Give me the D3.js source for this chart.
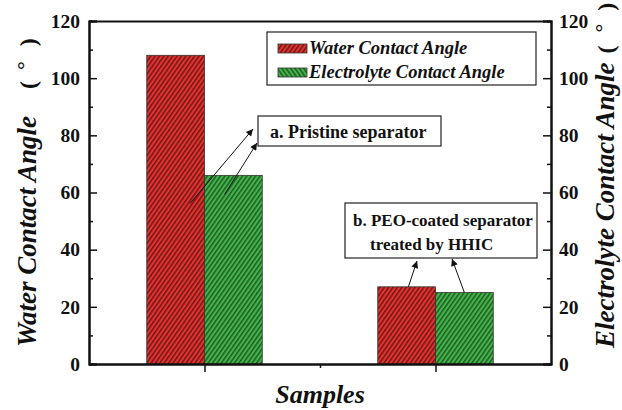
<!DOCTYPE html>
<html>
<head>
<meta charset="utf-8">
<script src="https://cdn.jsdelivr.net/npm/d3@7"></script>
</head>
<body style="margin:0; background:#fff">
<svg id="chart" width="622" height="410" style="display:block"></svg>
<script>
// sample positions on the x axis and measured angles
var samplePos = [1, 3];
var waterAngle = [108, 27];
var electrolyteAngle = [66, 25];
var yTicks = [0, 20, 40, 60, 80, 100, 120];
var yMinor = [10, 30, 50, 70, 90, 110];
var seriesNames = ["Water Contact Angle", "Electrolyte Contact Angle"];
var noteA = ["a. Pristine separator"];
var noteB = ["b. PEO-coated separator", "treated by HHIC"];

var margins = { top: 21, bottom: 46, left: 89, right: 71 };
var width = 622, height = 410;

var svg = d3.select("#chart");

var x = d3.scaleLinear().domain([0, 4]).range([margins.left, width - margins.right]);
var y = d3.scaleLinear().domain([0, 120]).range([height - margins.bottom, margins.top]);
var barW = x(0.5) - x(0);

/** hatch patterns */
var defs = svg.append("defs");
function hatch(id, base, stripe, flip) {
  var p = defs.append("pattern")
    .attr("id", id)
    .attr("patternUnits", "userSpaceOnUse")
    .attr("width", 3.6).attr("height", 4)
    .attr("patternTransform", "rotate(" + (flip ? -35 : 35) + ")");
  p.append("rect").attr("width", 3.6).attr("height", 4).attr("fill", base);
  p.append("rect").attr("width", 1.5).attr("height", 4).attr("fill", stripe);
}
hatch("redH", "#e3322f", "#6e1816", false);
hatch("greenH", "#46b24c", "#1c5e22", false);
hatch("greenL", "#46b24c", "#1c5e22", true);

/** bars */
svg.append("g").selectAll("rect")
  .data(samplePos)
  .enter().append("rect")
  .attr("x", (d) => x(d) - barW)
  .attr("y", (d, i) => y(waterAngle[i]))
  .attr("width", barW)
  .attr("height", (d, i) => y(0) - y(waterAngle[i]))
  .attr("fill", "url(#redH)")
  .attr("stroke", "#333").attr("stroke-width", 0.8);

svg.append("g").selectAll("rect")
  .data(samplePos)
  .enter().append("rect")
  .attr("x", (d) => x(d))
  .attr("y", (d, i) => y(electrolyteAngle[i]))
  .attr("width", barW)
  .attr("height", (d, i) => y(0) - y(electrolyteAngle[i]))
  .attr("fill", "url(#greenH)")
  .attr("stroke", "#333").attr("stroke-width", 0.8);

/** axes */
function styleAxis(g) {
  g.select(".domain").attr("stroke", "#111").attr("stroke-width", 2);
  g.selectAll(".tick line").attr("stroke", "#111").attr("stroke-width", 1.5);
  g.selectAll(".tick text").attr("font-size", 19.5);
}

svg.append("g")
  .attr("transform", `translate(${margins.left},0)`)
  .call(d3.axisLeft(y).tickValues(yTicks).tickSize(-8).tickPadding(9))
  .call(styleAxis);
svg.append("g")
  .attr("transform", `translate(${margins.left},0)`)
  .call(d3.axisLeft(y).tickValues(yMinor).tickSize(-4).tickFormat(""))
  .call(styleAxis);

svg.append("g")
  .attr("transform", `translate(${width - margins.right},0)`)
  .call(d3.axisRight(y).tickValues(yTicks).tickSize(-8).tickPadding(8))
  .call(styleAxis);
svg.append("g")
  .attr("transform", `translate(${width - margins.right},0)`)
  .call(d3.axisRight(y).tickValues(yMinor).tickSize(-4).tickFormat(""))
  .call(styleAxis);

svg.append("g")
  .attr("transform", `translate(0,${height - margins.bottom})`)
  .call(d3.axisBottom(x).tickValues(samplePos).tickSize(8).tickSizeOuter(0).tickFormat(""))
  .call(styleAxis);
svg.append("g")
  .attr("transform", `translate(0,${height - margins.bottom})`)
  .call(d3.axisBottom(x).tickValues([2]).tickSize(4).tickSizeOuter(0).tickFormat(""))
  .call(styleAxis);

svg.append("g")
  .attr("transform", `translate(0,${margins.top})`)
  .call(d3.axisTop(x).tickValues([]).tickSizeOuter(0))
  .call(styleAxis);

/** axis titles (the degree unit sits in widely spaced brackets) */
function yTitle(cx, startY, label, gaps) {
  var t = svg.append("text")
    .attr("transform", `translate(${cx},${startY}) rotate(-90)`)
    .attr("font-size", 27)
    .attr("font-style", "italic");
  t.append("tspan").text(label);
  t.append("tspan").style("font-style", "normal").attr("font-size", 24).attr("dx", gaps[0]).text("(");
  t.append("tspan").style("font-style", "normal").attr("font-size", 22).attr("dx", gaps[1]).attr("dy", -4).text("°");
  t.append("tspan").style("font-style", "normal").attr("font-size", 24).attr("dx", gaps[2]).attr("dy", 4).text(")");
}
yTitle(36, 347, "Water Contact Angle", [27, 11, 15]);
yTitle(614, 348, "Electrolyte Contact Angle", [9, 13, 13]);

svg.append("text")
  .attr("x", x(2)).attr("y", 403)
  .attr("text-anchor", "middle")
  .attr("font-size", 26).attr("font-style", "italic")
  .text("Samples");

/** legend */
var legend = svg.append("g");
legend.append("rect")
  .attr("x", 267).attr("y", 32).attr("width", 269).attr("height", 53)
  .attr("fill", "#fff").attr("stroke", "#222").attr("stroke-width", 1.2);
var swatchFill = ["url(#redH)", "url(#greenL)"];
seriesNames.forEach(function (name, i) {
  legend.append("rect")
    .attr("x", 278).attr("y", 44 + i * 24).attr("width", 29).attr("height", 9)
    .attr("fill", swatchFill[i]).attr("stroke", "#333").attr("stroke-width", 0.8);
  legend.append("text")
    .attr("x", 309).attr("y", 54 + i * 24)
    .attr("font-size", 18.5).attr("font-style", "italic")
    .text(name);
});

/** annotations */
defs.append("marker")
  .attr("id", "arrow")
  .attr("viewBox", "0 0 10 10")
  .attr("refX", 10).attr("refY", 5)
  .attr("markerWidth", 9).attr("markerHeight", 7)
  .attr("markerUnits", "userSpaceOnUse")
  .attr("orient", "auto")
  .append("path").attr("d", "M0,0 L10,5 L0,10 Z").attr("fill", "#111");

var notes = svg.append("g");
notes.append("rect")
  .attr("x", 258).attr("y", 116).attr("width", 183).attr("height", 30)
  .attr("fill", "#fff").attr("stroke", "#222").attr("stroke-width", 1.2);
notes.append("text")
  .attr("x", 270).attr("y", 138).attr("font-size", 18)
  .text(noteA[0]);

notes.append("rect")
  .attr("x", 345).attr("y", 203).attr("width", 192).attr("height", 55)
  .attr("fill", "#fff").attr("stroke", "#222").attr("stroke-width", 1.2);
noteB.forEach(function (line, i) {
  notes.append("text")
    .attr("x", i === 0 ? 353 : 370).attr("y", 226 + i * 24).attr("font-size", 17)
    .text(line);
});

// arrows from the bars to the labels
var arrows = [
  [x(samplePos[0]) - barW * 0.25, y(waterAngle[0] * 0.52), 253, 129],
  [x(samplePos[0]) + barW * 0.35, y(electrolyteAngle[0] * 0.9), 257, 143],
  [x(samplePos[1]) - barW * 0.47, y(waterAngle[1]), 417, 261],
  [x(samplePos[1]) + barW * 0.5, y(electrolyteAngle[1]), 452, 259]
];
notes.selectAll("line.arrow")
  .data(arrows)
  .enter().append("line")
  .attr("class", "arrow")
  .attr("x1", (d) => d[0]).attr("y1", (d) => d[1])
  .attr("x2", (d) => d[2]).attr("y2", (d) => d[3])
  .attr("stroke", "#111").attr("stroke-width", 1)
  .attr("marker-end", "url(#arrow)");

// serif bold everywhere, like the original figure
svg.selectAll("text")
  .style("font-family", "'Liberation Serif', serif")
  .style("font-weight", "bold")
  .attr("fill", "#111");
</script>
</body>
</html>
